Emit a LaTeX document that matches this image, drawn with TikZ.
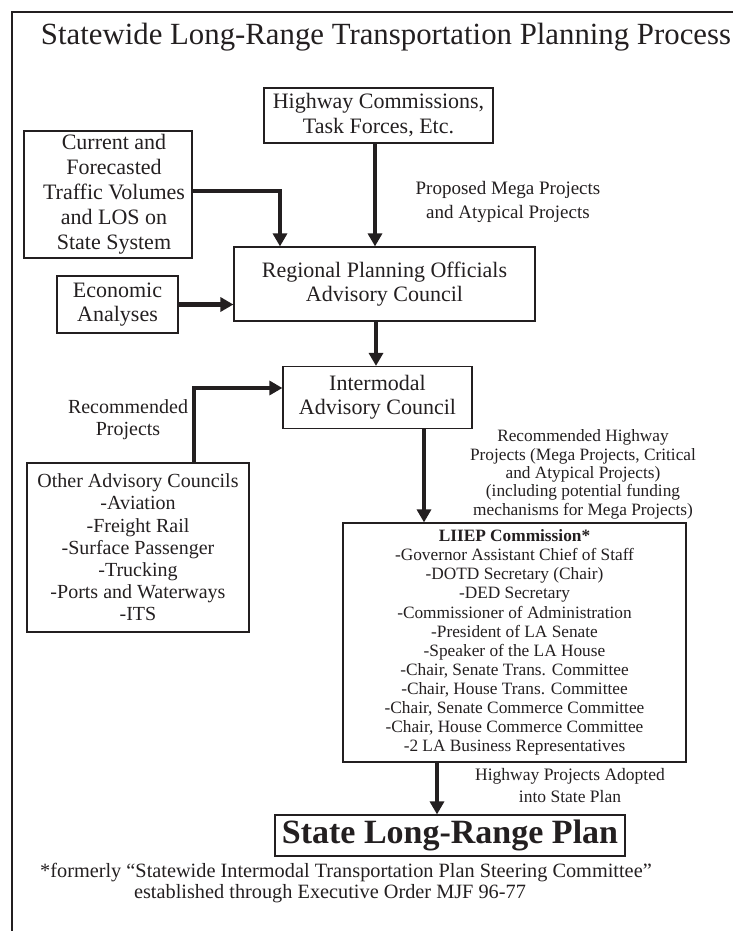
\documentclass[tikz,border=0pt]{standalone}
\usepackage{fontspec}
\setmainfont{Liberation Serif}
\usetikzlibrary{arrows.meta,calc}
\definecolor{ink}{HTML}{231F20}
\begin{document}
\begin{tikzpicture}[x=1pt,y=-1pt,
  box/.style={draw=ink, line width=1.2pt, inner sep=0pt, align=center, text=ink},
  lbl/.style={align=center, inner sep=0pt, text=ink},
  flow/.style={draw=ink, line width=3.2pt, -{Triangle[width=14pt,length=13pt]}},
  fz/.style n args={2}{font=\fontsize{#1}{#2}\selectfont},
  ]
\useasboundingbox (0,0) rectangle (733,931);

% outer frame (open to the right and bottom)
\draw[ink, line width=2.4pt] (733,12) -- (12,12) -- (12,931);

% title
\node[lbl, anchor=base, fz={30.8}{34}] (title) at (386,45)
  {Statewide Long-Range Transportation Planning Process};

% boxes
\node[box, fz={22}{25}, minimum width=229, minimum height=55] (hwy) at (378.5,115.5)
  {Highway Commissions,\\Task Forces, Etc.};
\node[box, minimum width=168, minimum height=127] (cur) at (108,194.5) {};
\node[lbl, fz={22}{25}] (curtext) at (114,194.5)
  {Current and\\Forecasted\\Traffic Volumes\\and LOS on\\State System};
\node[box, fz={22}{23.5}, minimum width=121, minimum height=57] (econ) at (117.5,304.5)
  {Economic\\Analyses};
\node[box, fz={22}{24}, minimum width=301, minimum height=74] (reg) at (384.5,284)
  {Regional Planning Officials\\Advisory Council};
\node[box, fz={22}{24}, minimum width=189, minimum height=62] (inter) at (377.5,397.5)
  {Intermodal\\Advisory Council};
\node[box, fz={20}{22.2}, minimum width=222, minimum height=169] (other) at (138,547.5)
  {Other Advisory Councils\\-Aviation\\-Freight Rail\\-Surface Passenger\\-Trucking\\-Ports and Waterways\\-ITS};
\node[box, fz={17.3}{19.1}, minimum width=343, minimum height=239] (liiep) at (514.5,642.5)
  {\textbf{LIIEP Commission*}\\-Governor Assistant Chief of Staff\\-DOTD Secretary (Chair)\\-DED Secretary\\
   -Commissioner of Administration\\-President of LA Senate\\-Speaker of the LA House\\
   -Chair, Senate Trans. Committee\\-Chair, House Trans. Committee\\-Chair, Senate Commerce Committee\\
   -Chair, House Commerce Committee\\-2 LA Business Representatives};
\node[box, fz={34}{36}, minimum width=350, minimum height=41] (slrp) at (450,835.5)
  {\bfseries State Long-Range Plan};

% connector labels (anchored at the baseline of their last line)
\node[lbl, fz={19}{24}, anchor=base] (mega) at (508,218)
  {Proposed Mega Projects\\and Atypical Projects};
\node[lbl, fz={20}{22}, anchor=base] (recp) at (128,435)
  {Recommended\\Projects};
\node[lbl, fz={17.3}{18.3}, anchor=base] (rech) at (583,515)
  {Recommended Highway\\Projects (Mega Projects, Critical\\and Atypical Projects)\\(including potential funding\\mechanisms for Mega Projects)};
\node[lbl, fz={17.5}{22}, anchor=base] (adopt) at (570,802)
  {Highway Projects Adopted\\into State Plan};

% footnote
\node[lbl, fz={20.3}{21}, anchor=base west] (foot1) at (40,877)
  {*formerly “Statewide Intermodal Transportation Plan Steering Committee”};
\node[lbl, fz={20.3}{21}, anchor=base] (foot2) at (330,898)
  {established through Executive Order MJF 96-77};

% routing points
\coordinate (kh) at (375,0);
\coordinate (kc) at (280,191);
\coordinate (kr) at (376,0);
\coordinate (ko) at (194,388);
\coordinate (ki) at (424,0);
\coordinate (kl) at (437,0);

% connectors
\draw[flow] (hwy.south -| kh) -- (reg.north -| kh);
\draw[flow] (cur.east |- kc) -| (reg.north -| kc);
\draw[flow, line width=4.5pt] (econ.east) -- (reg.west |- econ.east);
\draw[flow] (reg.south -| kr) -- (inter.north -| kr);
\draw[flow] (other.north -| ko) |- (inter.west |- ko);
\draw[flow] (inter.south -| ki) -- (liiep.north -| ki);
\draw[flow] (liiep.south -| kl) -- (slrp.north -| kl);
\end{tikzpicture}
\end{document}
